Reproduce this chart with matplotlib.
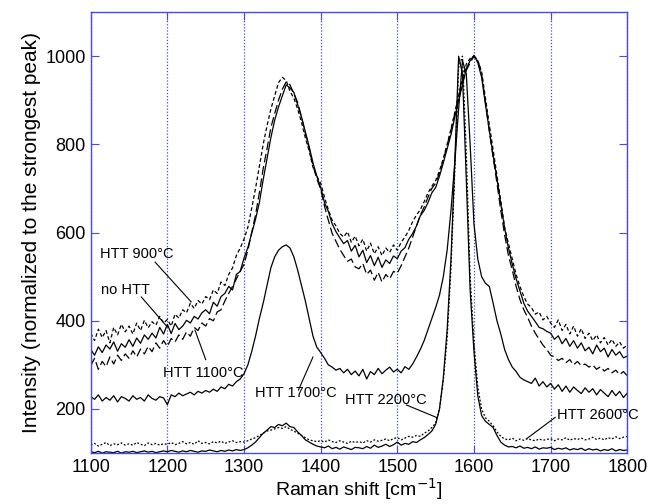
import numpy as np
import matplotlib
matplotlib.use("Agg")
import matplotlib.pyplot as plt

plt.rcParams['font.family'] = ['Liberation Sans', 'DejaVu Sans']

# Raman shift axis, cm-1 (shared by all spectra)
shift = np.arange(1100, 1801, 5)

no_htt = [
    335, 322, 341, 328, 345, 336, 352, 331, 348, 340,
    357, 342, 361, 349, 368, 358, 372, 361, 385, 370,
    392, 371, 394, 380, 388, 401, 395, 410, 404, 418,
    425, 416, 442, 433, 455, 462, 478, 470, 505, 512,
    542, 566, 598, 630, 668, 720, 768, 815, 855, 885,
    910, 935, 928, 918, 890, 862, 828, 795, 758, 728,
    702, 668, 648, 620, 602, 588, 575, 582, 558, 571,
    545, 560, 532, 548, 525, 544, 521, 538, 530, 547,
    541, 558, 566, 585, 598, 615, 638, 650, 668, 690,
    702, 728, 758, 790, 822, 862, 900, 935, 972, 990,
    1002, 985, 952, 890, 832, 775, 722, 665, 610, 565,
    528, 495, 468, 440, 422, 410, 398, 385, 382, 376,
    372, 358, 366, 348, 360, 342, 355, 338, 350, 332,
    340, 325, 345, 330, 338, 318, 335, 322, 330, 316,
    320,
]

htt_900 = [
    372, 355, 381, 362, 378, 350, 385, 368, 392, 375,
    388, 370, 395, 378, 401, 384, 398, 390, 410, 395,
    403, 388, 415, 406, 425, 418, 440, 428, 446, 438,
    455, 448, 470, 462, 488, 480, 505, 520, 548, 565,
    585, 612, 655, 700, 750, 800, 842, 880, 910, 940,
    952, 945, 920, 905, 880, 850, 815, 785, 748, 728,
    712, 680, 652, 628, 615, 598, 590, 602, 578, 592,
    570, 585, 558, 576, 552, 568, 548, 565, 555, 572,
    560, 578, 590, 605, 625, 640, 652, 670, 690, 705,
    718, 740, 768, 800, 835, 872, 912, 948, 982, 995,
    1000, 990, 965, 905, 845, 788, 730, 672, 612, 575,
    540, 505, 478, 455, 438, 430, 415, 420, 402, 410,
    395, 385, 402, 378, 392, 370, 388, 365, 382, 360,
    372, 355, 368, 350, 362, 345, 358, 342, 352, 338,
    345,
]

htt_1100 = [
    298, 315, 290, 308, 296, 318, 302, 322, 310, 325,
    315, 332, 318, 336, 325, 342, 330, 350, 338, 355,
    342, 360, 352, 368, 358, 375, 365, 385, 378, 395,
    388, 405, 400, 420, 425, 445, 462, 478, 495, 512,
    528, 560, 600, 640, 690, 745, 790, 838, 870, 900,
    925, 942, 935, 915, 895, 862, 825, 790, 752, 722,
    698, 660, 628, 598, 580, 562, 548, 535, 540, 522,
    518, 530, 505, 515, 492, 510, 488, 505, 495, 512,
    508, 525, 545, 565, 590, 615, 640, 658, 680, 700,
    712, 735, 765, 798, 832, 870, 905, 940, 968, 985,
    1000, 992, 960, 895, 830, 770, 712, 650, 595, 548,
    515, 478, 448, 425, 408, 388, 372, 358, 345, 335,
    322, 318, 310, 315, 305, 312, 300, 308, 298, 302,
    295, 300, 290, 296, 286, 292, 282, 288, 278, 285,
    275,
]

htt_1700 = [
    228, 222, 232, 218, 226, 220, 230, 216, 228, 224,
    218, 230, 222, 226, 218, 232, 224, 220, 228, 225,
    210, 232, 228, 236, 230, 234, 238, 232, 240, 236,
    242, 238, 245, 240, 250, 246, 256, 252, 262, 268,
    280, 300, 330, 365, 405, 440, 480, 520, 545, 560,
    568, 572, 565, 545, 515, 480, 445, 405, 365, 340,
    328, 315, 300, 295, 288, 292, 282, 290, 278, 286,
    275, 290, 268, 285, 278, 292, 280, 288, 295, 284,
    290, 282, 296, 290, 302, 318, 335, 355, 380, 405,
    430, 458, 500, 560, 650, 760, 880, 990, 960, 800,
    620, 540, 500, 485, 478, 440, 400, 370, 335, 312,
    295, 285, 272, 266, 262, 258, 270, 252, 262, 250,
    258, 245, 255, 240, 252, 238, 250, 242, 235, 248,
    238, 246, 232, 244, 236, 228, 242, 230, 240, 226,
    236,
]

htt_2200 = [
    103, 101, 104, 100, 103, 102, 101, 104, 100, 103,
    102, 104, 101, 103, 105, 102, 104, 101, 103, 105,
    103, 106, 104, 102, 105, 103, 106, 104, 102, 105,
    104, 107, 105, 103, 106, 104, 107, 105, 108, 106,
    108, 112, 118, 125, 135, 145, 152, 160, 158, 165,
    162, 168, 160, 158, 148, 140, 130, 125, 120, 116,
    114, 112, 116, 110, 113, 109, 114, 111, 108, 113,
    112, 110, 115, 111, 118, 113, 116, 120, 115, 119,
    125, 118, 122, 120, 126, 124, 130, 135, 142, 150,
    165, 200, 270, 380, 540, 760, 1000, 960, 720, 470,
    330, 230, 185, 172, 165, 158, 140, 125, 118, 114,
    115, 112, 116, 111, 113, 110, 114, 109, 112, 111,
    113, 108, 111, 109, 112, 107, 110, 108, 111, 106,
    110, 107, 109, 105, 108, 106, 110, 105, 108, 106,
    107,
]

htt_2600 = [
    118, 122, 116, 120, 124, 117, 121, 119, 123, 118,
    121, 118, 124, 120, 117, 123, 119, 122, 118, 121,
    120, 124, 119, 122, 126, 121, 124, 120, 128, 122,
    124, 121, 126, 123, 127, 122, 125, 128, 124, 126,
    125, 128, 132, 135, 140, 145, 150, 152, 155, 158,
    156, 160, 154, 150, 145, 140, 135, 130, 128, 126,
    128, 125, 130, 126, 124, 128, 125, 122, 127, 124,
    126, 123, 128, 125, 130, 127, 129, 132, 128, 133,
    135, 130, 134, 138, 136, 140, 138, 145, 150, 158,
    168, 200, 265, 360, 520, 740, 975, 1000, 780, 500,
    350, 250, 200, 180, 172, 162, 148, 138, 132, 130,
    134, 128, 132, 129, 133, 130, 128, 132, 129, 131,
    133, 128, 132, 130, 135, 129, 133, 131, 134, 130,
    132, 136, 131, 134, 130, 135, 132, 137, 133, 136,
    138,
]

# label text, text position, line start, arrow tip (data coords)
notes = [
    ("HTT 900°C", (1112, 551), (1184, 533), (1231, 443)),
    ("no HTT", (1113, 469), (1166, 454), (1200, 386)),
    ("HTT 1100°C", (1194, 282), (1250, 312), (1236, 379)),
    ("HTT 1700°C", (1314, 237), (1371, 243), (1390, 318)),
    ("HTT 2200°C", (1432, 220), (1512, 209), (1551, 181)),
    ("HTT 2600°C", (1708, 186), (1706, 181), (1669, 133)),
]

blue = '#4848f0'

fig = plt.figure(figsize=(6.48, 5.04), dpi=100)
ax = fig.add_axes([0.14, 0.101, 0.828, 0.875])

lw = 0.9
ax.plot(shift, no_htt, color='black', lw=lw)
ax.plot(shift, htt_900, color='black', lw=lw, dashes=(3, 2))
ax.plot(shift, htt_1100, color='black', lw=lw, dashes=(7, 3))
ax.plot(shift, htt_1700, color='black', lw=lw)
ax.plot(shift, htt_2200, color='black', lw=lw)
ax.plot(shift, htt_2600, color='black', lw=lw, dashes=(1.5, 1.5))

for label, txt, start, tip in notes:
    ax.text(txt[0], txt[1], label, fontsize=10.5, ha='left', va='center')
    ax.plot([start[0], tip[0]], [start[1], tip[1]], color='black', lw=0.8)

ax.set_xlim(1100, 1800)
ax.set_ylim(100, 1100)
ax.set_xticks(np.arange(1100, 1801, 100))
ax.set_yticks(np.arange(200, 1001, 200))
ax.xaxis.grid(True, color=blue, linestyle=(0, (1, 1.5)), lw=0.9)

for s in ax.spines.values():
    s.set_color(blue)
    s.set_linewidth(1.0)
ax.tick_params(direction='in', colors=blue, labelcolor='black',
               labelsize=13, length=6, right=True, top=True)
ax.tick_params(axis='x', pad=4)

ax.set_xlabel("Raman shift [cm$^{-1}$]", fontsize=14, labelpad=0)
ax.set_ylabel("Intensity (normalized to the strongest peak)", fontsize=15, labelpad=3)

fig.savefig("out.png", dpi=100)
